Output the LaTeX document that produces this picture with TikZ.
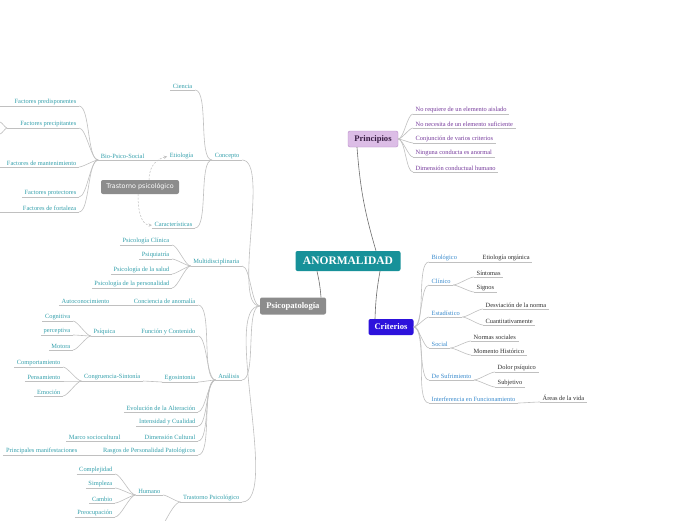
\documentclass[tikz,border=0pt]{standalone}
\usepackage{fontspec}
\setmainfont{Liberation Serif}
\newfontfamily\boxfont{DejaVu Sans}
\usepackage{tikz}

\definecolor{anormfill}{RGB}{23,145,153}
\definecolor{princfill}{RGB}{220,189,230}
\definecolor{princdraw}{RGB}{185,139,201}
\definecolor{princtxt}{RGB}{58,31,69}
\definecolor{critfill}{RGB}{45,18,220}
\definecolor{topicgray}{RGB}{140,140,140}
\definecolor{tealtxt}{RGB}{52,160,172}
\definecolor{bluetxt}{RGB}{56,138,205}
\definecolor{purptxt}{RGB}{118,58,156}
\definecolor{darktxt}{RGB}{45,45,45}
\definecolor{linegray}{RGB}{192,192,192}
\definecolor{darkline}{RGB}{110,110,110}

\tikzset{
  uline/.style={draw=linegray, line width=0.6pt},
  lbl/.style={font=\fontsize{6.4}{7}\selectfont, inner xsep=2.5pt, inner ysep=1.4pt,
    append after command={(\tikzlastnode.south west) edge[uline] (\tikzlastnode.south east)}},
  lft/.style={lbl, anchor=south east, text=tealtxt},
  rgt/.style={lbl, anchor=south west},
  conn/.style={draw=linegray, line width=0.6pt, looseness=0.5},
  mainconn/.style={draw=darkline, line width=0.6pt},
  topic/.style={rounded corners=2pt, inner sep=0pt, minimum height=16pt,
    font=\bfseries\fontsize{8.6}{9}\selectfont},
  rel/.style={draw=linegray, dash pattern=on 2pt off 1.5pt, line width=0.5pt, ->}
}

\begin{document}
\begin{tikzpicture}[x=1pt,y=-1pt,>=stealth]
        \fill[white] (0,0) rectangle (696,520);
        \useasboundingbox (0,0) rectangle (696,520);

        % main topics
        \node[topic, fill=anormfill, text=white, minimum width=105pt, minimum height=20pt,
              font=\bfseries\fontsize{11.5}{12}\selectfont] (anorm) at (348,261) {ANORMALIDAD};
        \node[topic, fill=princfill, draw=princdraw, text=princtxt, minimum width=50pt] (principios) at (373,139) {Principios};
        \node[topic, fill=critfill, text=white, minimum width=45pt] (criterios) at (391,327) {Criterios};
        \node[topic, fill=topicgray, text=white, minimum width=66pt, minimum height=17pt] (psico) at (293,306) {Psicopatología};

        \draw[mainconn] ([xshift=28pt]anorm.north) to[bend left=6] ([xshift=-16pt]principios.south);
        \draw[mainconn] ([xshift=32pt]anorm.south) to[bend right=4] ([xshift=-16pt]criterios.north);
        \draw[mainconn] ([xshift=-31pt]anorm.south) to[bend left=4] ([xshift=28pt]psico.north);

        % principios
        \node[rgt, text=purptxt] (p1) at (413,114) {No requiere de un elemento aislado};
        \node[rgt, text=purptxt] (p2) at (413,128) {No necesita de un elemento suficiente};
        \node[rgt, text=purptxt] (p3) at (413,143) {Conjunción de varios criterios};
        \node[rgt, text=purptxt] (p4) at (413,157) {Ninguna conducta es anormal};
        \node[rgt, text=purptxt] (p5) at (413,172) {Dimensión conductual humano};

        \draw[conn] (principios.east) to[out=0,in=180] (p1.south west);
        \draw[conn] (principios.east) to[out=0,in=180] (p2.south west);
        \draw[conn] (principios.east) to[out=0,in=180] (p3.south west);
        \draw[conn] (principios.east) to[out=0,in=180] (p4.south west);
        \draw[conn] (principios.east) to[out=0,in=180] (p5.south west);

        % criterios
        \node[rgt, text=bluetxt] (biol) at (429,262) {Biológico};
        \node[rgt, text=darktxt] (etorg) at (480,262) {Etiología orgánica};
        \node[rgt, text=bluetxt] (clinico) at (429,285) {Clínico};
        \node[rgt, text=darktxt] (sintomas) at (474,277) {Síntomas};
        \node[rgt, text=darktxt] (signos) at (474,292) {Signos};
        \node[rgt, text=bluetxt] (estad) at (429,317) {Estadístico};
        \node[rgt, text=darktxt] (desv) at (483,309) {Desviación de la norma};
        \node[rgt, text=darktxt] (cuant) at (483,325) {Cuantitativamente};
        \node[rgt, text=bluetxt] (social) at (429,348) {Social};
        \node[rgt, text=darktxt] (normas) at (471,341) {Normas sociales};
        \node[rgt, text=darktxt] (momento) at (471,355) {Momento Histórico};
        \node[rgt, text=bluetxt] (sufr) at (429,380) {De Sufrimiento};
        \node[rgt, text=darktxt] (dolor) at (495,372) {Dolor psíquico};
        \node[rgt, text=darktxt] (subj) at (495,387) {Subjetivo};
        \node[rgt, text=bluetxt] (interf) at (429,403) {Interferencia en Funcionamiento};
        \node[rgt, text=darktxt] (areas) at (540,402) {Áreas de la vida};

        \draw[conn] (criterios.east) to[out=0,in=180] (biol.south west);
        \draw[conn] (criterios.east) to[out=0,in=180] (clinico.south west);
        \draw[conn] (criterios.east) to[out=0,in=180] (estad.south west);
        \draw[conn] (criterios.east) to[out=0,in=180] (social.south west);
        \draw[conn] (criterios.east) to[out=0,in=180] (sufr.south west);
        \draw[conn] (criterios.east) to[out=0,in=180] (interf.south west);
        \draw[conn] (biol.south east) -- (etorg.south west);
        \draw[conn] (clinico.south east) to[out=0,in=180] (sintomas.south west);
        \draw[conn] (clinico.south east) to[out=0,in=180] (signos.south west);
        \draw[conn] (estad.south east) to[out=0,in=180] (desv.south west);
        \draw[conn] (estad.south east) to[out=0,in=180] (cuant.south west);
        \draw[conn] (social.south east) to[out=0,in=180] (normas.south west);
        \draw[conn] (social.south east) to[out=0,in=180] (momento.south west);
        \draw[conn] (sufr.south east) to[out=0,in=180] (dolor.south west);
        \draw[conn] (sufr.south east) to[out=0,in=180] (subj.south west);
        \draw[conn] (interf.south east) to[out=0,in=180] (areas.south west);

        % psicopatologia: concepto
        \node[lft] (concepto) at (242,160) {Concepto};
        \node[lft] (ciencia) at (195,90) {Ciencia};
        \node[lft] (etiologia) at (196,160) {Etiología};
        \node[lft] (caract) at (195,228) {Características};
        \node[lft] (biopsico) at (147,160) {Bio-Psico-Social};
        \node[lft] (fpred) at (79,106) {Factores predisponentes};
        \node[lft] (fprec) at (79,128) {Factores precipitantes};
        \node[lft] (fmant) at (79,167) {Factores de mantenimiento};
        \node[lft] (fprot) at (79,197) {Factores protectores};
        \node[lft] (ffort) at (79,212) {Factores de fortaleza};

        \coordinate (fpredend) at (0,106);
        \coordinate (fprecjn) at (7,128);
        \coordinate (fprecup) at (0,122);
        \coordinate (fprecdn) at (0,134);
        \coordinate (fmantend) at (0,167);
        \coordinate (ffortend) at (0,212);

        \draw[conn] (concepto.south west) to[out=180,in=0] (ciencia.south east);
        \draw[conn] (concepto.south west) -- (etiologia.south east);
        \draw[conn] (concepto.south west) to[out=180,in=0] (caract.south east);
        \draw[conn] (etiologia.south west) -- (biopsico.south east);
        \draw[conn] (biopsico.south west) to[out=180,in=0] (fpred.south east);
        \draw[conn] (biopsico.south west) to[out=180,in=0] (fprec.south east);
        \draw[conn] (biopsico.south west) to[out=180,in=0] (fmant.south east);
        \draw[conn] (biopsico.south west) to[out=180,in=0] (fprot.south east);
        \draw[conn] (biopsico.south west) to[out=180,in=0] (ffort.south east);
        \draw[conn] (fpred.south west) -- (fpredend);
        \draw[conn] (fprec.south west) -- (fprecjn);
        \draw[conn] (fprecjn) to[out=180,in=0] (fprecup);
        \draw[conn] (fprecjn) to[out=180,in=0] (fprecdn);
        \draw[conn] (fmant.south west) -- (fmantend);
        \draw[conn] (ffort.south west) -- (ffortend);

        % floating topic
        \node[fill=topicgray, text=white, rounded corners=2pt, inner sep=0pt,
              minimum width=78pt, minimum height=14pt,
              font=\boxfont\fontsize{6.4}{7}\selectfont] (tpsic) at (140,187) {Trastorno psicológico};
        \draw[rel] ([xshift=9pt]tpsic.north) .. controls +(0,-16) and +(-8,2) .. ([yshift=-1pt]etiologia.west);
        \draw[rel] ([xshift=-2pt]tpsic.south) .. controls +(0,24) and +(-8,0) .. ([yshift=-1pt]caract.west);

        % multidisciplinaria
        \node[lft] (multi) at (242,266) {Multidisciplinaria};
        \node[lft] (pclin) at (172,245) {Psicología Clínica};
        \node[lft] (psiq) at (172,259) {Psiquiatría};
        \node[lft] (psalud) at (172,274) {Psicología de la salud};
        \node[lft] (ppers) at (172,288) {Psicología de la personalidad};

        \draw[conn] (multi.south west) to[out=180,in=0] (pclin.south east);
        \draw[conn] (multi.south west) to[out=180,in=0] (psiq.south east);
        \draw[conn] (multi.south west) to[out=180,in=0] (psalud.south east);
        \draw[conn] (multi.south west) to[out=180,in=0] (ppers.south east);

        % analisis
        \node[lft] (analisis) at (242,380) {Análisis};
        \node[lft] (concien) at (198,305) {Conciencia de anomalía};
        \node[lft] (autocon) at (112,305) {Autoconocimiento};
        \node[lft] (funcion) at (198,336) {Función y Contenido};
        \node[lft] (psiquica) at (118,336) {Psíquica};
        \node[lft] (cogn) at (73,321) {Cognitiva};
        \node[lft] (percep) at (73,335) {perceptiva};
        \node[lft] (motora) at (73,350) {Motora};
        \node[lft] (egosin) at (198,382) {Egosintonia};
        \node[lft] (congru) at (143,381) {Congruencia-Sintonía};
        \node[lft] (comport) at (63,367) {Comportamiento};
        \node[lft] (pensam) at (63,381) {Pensamiento};
        \node[lft] (emocion) at (63,396) {Emoción};
        \node[lft] (evol) at (198,412) {Evolución de la Alteración};
        \node[lft] (intens) at (198,426) {Intensidad y Cualidad};
        \node[lft] (dimcult) at (198,441) {Dimensión Cultural};
        \node[lft] (marco) at (123,441) {Marco sociocultural};
        \node[lft] (rasgos) at (198,455) {Rasgos de Personalidad Patológicos};
        \node[lft] (princman) at (80,455) {Principales manifestaciones};

        \draw[conn] (analisis.south west) to[out=180,in=0] (concien.south east);
        \draw[conn] (analisis.south west) to[out=180,in=0] (funcion.south east);
        \draw[conn] (analisis.south west) to[out=180,in=0] (egosin.south east);
        \draw[conn] (analisis.south west) to[out=180,in=0] (evol.south east);
        \draw[conn] (analisis.south west) to[out=180,in=0] (intens.south east);
        \draw[conn] (analisis.south west) to[out=180,in=0] (dimcult.south east);
        \draw[conn] (analisis.south west) to[out=180,in=0] (rasgos.south east);
        \draw[conn] (concien.south west) -- (autocon.south east);
        \draw[conn] (funcion.south west) -- (psiquica.south east);
        \draw[conn] (psiquica.south west) to[out=180,in=0] (cogn.south east);
        \draw[conn] (psiquica.south west) to[out=180,in=0] (percep.south east);
        \draw[conn] (psiquica.south west) to[out=180,in=0] (motora.south east);
        \draw[conn] (egosin.south west) -- (congru.south east);
        \draw[conn] (congru.south west) to[out=180,in=0] (comport.south east);
        \draw[conn] (congru.south west) to[out=180,in=0] (pensam.south east);
        \draw[conn] (congru.south west) to[out=180,in=0] (emocion.south east);
        \draw[conn] (dimcult.south west) -- (marco.south east);
        \draw[conn] (rasgos.south west) -- (princman.south east);

        % trastorno psicologico
        \node[lft] (trastorno) at (242,502) {Trastorno Psicológico};
        \node[lft] (humano) at (163,495) {Humano};
        \node[lft] (complej) at (115,474) {Complejidad};
        \node[lft] (simpl) at (115,488) {Simpleza};
        \node[lft] (cambio) at (115,503) {Cambio};
        \node[lft] (preoc) at (115,517) {Preocupación};
        \coordinate (tpnext) at (150,540);

        \draw[conn] (trastorno.south west) to[out=180,in=0] (humano.south east);
        \draw[conn] (trastorno.south west) to[out=180,in=0] (tpnext);
        \draw[conn] (humano.south west) to[out=180,in=0] (complej.south east);
        \draw[conn] (humano.south west) to[out=180,in=0] (simpl.south east);
        \draw[conn] (humano.south west) to[out=180,in=0] (cambio.south east);
        \draw[conn] (humano.south west) to[out=180,in=0] (preoc.south east);

        % psicopatologia branches
        \draw[conn] (psico.west) to[out=180,in=0] (concepto.south east);
        \draw[conn] (psico.west) to[out=180,in=0] (multi.south east);
        \draw[conn] (psico.west) to[out=180,in=0] (analisis.south east);
        \draw[conn] (psico.west) to[out=180,in=0] (trastorno.south east);
\end{tikzpicture}
\end{document}
